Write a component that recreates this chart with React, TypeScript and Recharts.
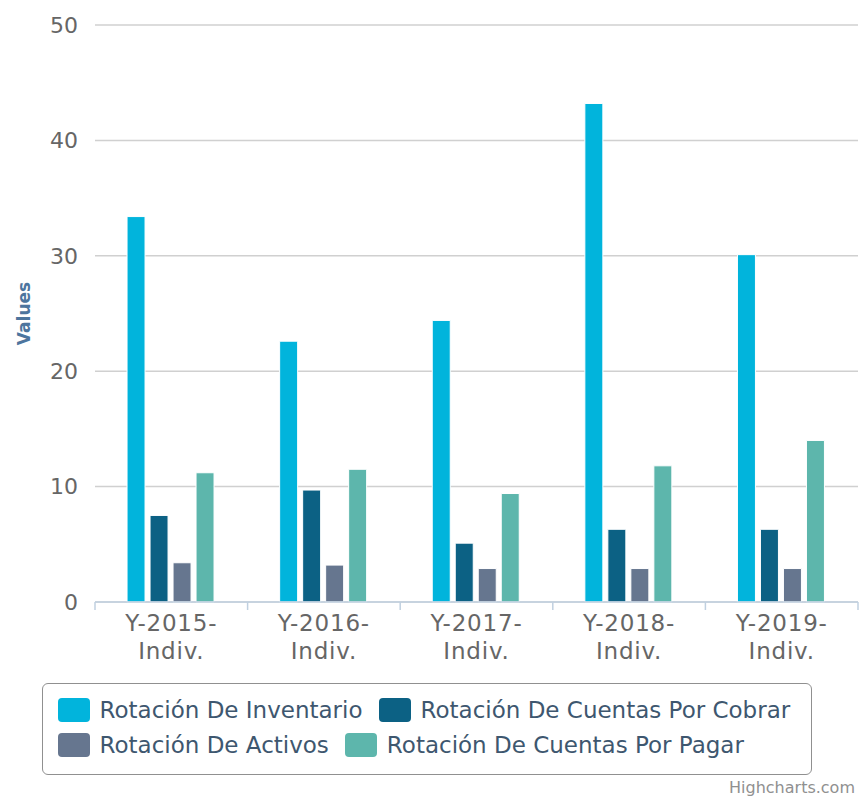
import React from 'react';
import { BarChart, Bar, XAxis, YAxis, CartesianGrid, Legend } from 'recharts';

const categories = ['Y-2015-Indiv.', 'Y-2016-Indiv.', 'Y-2017-Indiv.', 'Y-2018-Indiv.', 'Y-2019-Indiv.'];
const inventario = [33.4, 22.6, 24.4, 43.2, 30.1];
const cobrar = [7.5, 9.7, 5.1, 6.3, 6.3];
const activos = [3.4, 3.2, 2.9, 2.9, 2.9];
const pagar = [11.2, 11.5, 9.4, 11.8, 14.0];
const yTicks = [0, 10, 20, 30, 40, 50];

const series = [
  { key: 'inventario', name: 'Rotación De Inventario', color: '#01b4dc' },
  { key: 'cobrar', name: 'Rotación De Cuentas Por Cobrar', color: '#0c6184' },
  { key: 'activos', name: 'Rotación De Activos', color: '#66768f' },
  { key: 'pagar', name: 'Rotación De Cuentas Por Pagar', color: '#5db6ac' },
];

const data = categories.map((c, i) => ({
  name: c,
  inventario: inventario[i],
  cobrar: cobrar[i],
  activos: activos[i],
  pagar: pagar[i],
}));

const FONT = '"DejaVu Sans", Verdana, sans-serif';

function XTick(props: any) {
  const { x, y, payload, index } = props;
  const off = payload.offset ?? 0;
  const label: string = payload.value;
  const cut = label.indexOf('Indiv');
  const l1 = label.slice(0, cut);
  const l2 = label.slice(cut);
  return (
    <g>
      <line x1={x - off} x2={x - off} y1={y} y2={y + 8} stroke="#c0d0e0" strokeWidth={1.5} />
      {index === categories.length - 1 && (
        <line x1={x + off} x2={x + off} y1={y} y2={y + 8} stroke="#c0d0e0" strokeWidth={1.5} />
      )}
      <text x={x} y={y + 28.5} textAnchor="middle" fill="#666" fontSize={23} letterSpacing={0.8} fontFamily={FONT}>{l1}</text>
      <text x={x} y={y + 56.5} textAnchor="middle" fill="#666" fontSize={23} letterSpacing={0.8} fontFamily={FONT}>{l2}</text>
    </g>
  );
}

function YTitle(props: any) {
  const vb = props.viewBox || { x: 0, y: 25, width: 95, height: 577 };
  const cx = vb.x + 24;
  const cy = vb.y + vb.height / 2;
  return (
    <text x={cx} y={cy} transform={`rotate(-90, ${cx}, ${cy})`} textAnchor="middle" dominantBaseline="central"
      fill="#4d759e" fontSize={17} fontWeight="bold" fontFamily={FONT}>Values</text>
  );
}

function LegendBox() {
  return (
    <div style={{
      boxSizing: 'border-box', width: 770, height: 92, border: '1.5px solid #909090', borderRadius: 6,
      padding: '8px 0 0 14.5px', display: 'flex', flexWrap: 'wrap', alignContent: 'flex-start',
      fontFamily: FONT, fontSize: 23, color: '#3e576f', background: '#fff',
    }}>
      {series.map((s) => (
        <div key={s.key} style={{ display: 'flex', alignItems: 'center', height: 35.5, marginRight: 16 }}>
          <span style={{ display: 'inline-block', width: 32, height: 24, borderRadius: 4, background: s.color, marginRight: 10 }} />
          <span style={{ whiteSpace: 'nowrap' }}>{s.name}</span>
        </div>
      ))}
    </div>
  );
}

export default function App() {
  return (
    <div style={{ position: 'absolute', left: 0, top: 0, width: 860, height: 799, background: '#fff' }}>
      <BarChart
        width={860}
        height={799}
        data={data}
        margin={{ top: 25, right: 2, left: 0, bottom: 137 }}
        barCategoryGap="21%"
        barGap={5}
      >
        <CartesianGrid vertical={false} stroke="#d0d0d0" strokeWidth={1.5} />
        <XAxis
          dataKey="name"
          height={60}
          tickLine={false}
          tickSize={0}
          tickMargin={0}
          tick={<XTick />}
          axisLine={{ stroke: '#c0d0e0', strokeWidth: 1.5 }}
          interval={0}
        />
        <YAxis
          width={95}
          domain={[0, 50]}
          ticks={yTicks}
          tickLine={false}
          axisLine={false}
          tickSize={0}
          tickMargin={17}
          tick={{ fill: '#666', fontSize: 22, fontFamily: FONT }}
          label={<YTitle />}
        />
        <Legend
          layout="horizontal"
          verticalAlign="middle"
          align="center"
          wrapperStyle={{ top: 683, left: 42, width: 770 }}
          content={() => <LegendBox />}
        />
        {series.map((s) => (
          <Bar key={s.key} dataKey={s.key} name={s.name} fill={s.color} stroke="#fff" strokeWidth={1} isAnimationActive={false} />
        ))}
      </BarChart>
      <div style={{ position: 'absolute', right: 5, top: 778, fontFamily: FONT, fontSize: 16, color: '#909090' }}>Highcharts.com</div>
    </div>
  );
}
